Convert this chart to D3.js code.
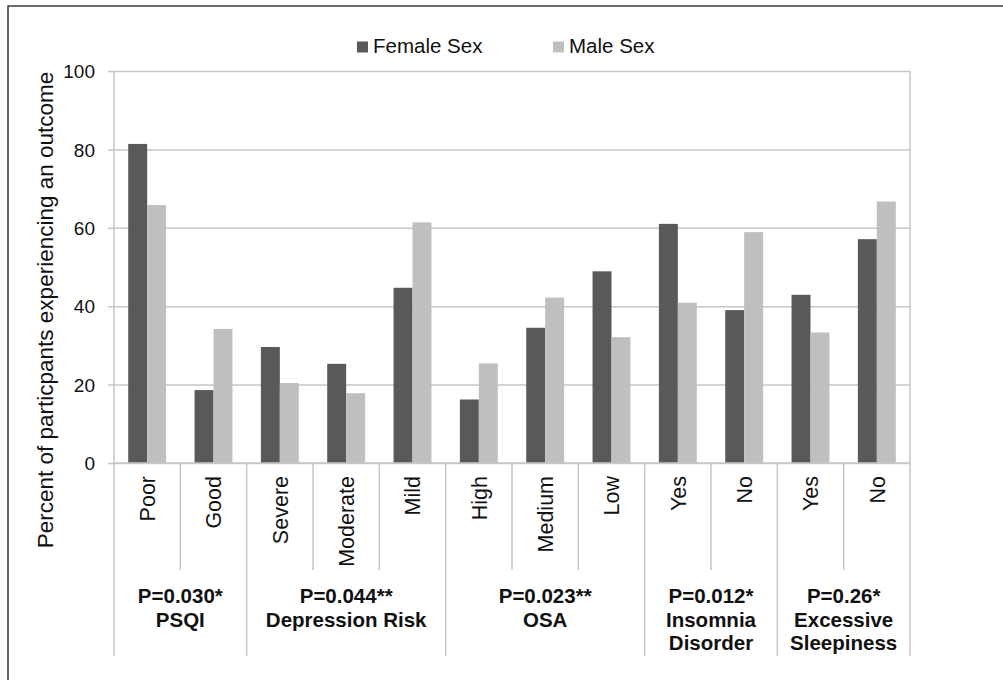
<!DOCTYPE html>
<html>
<head>
<meta charset="utf-8">
<script src="https://cdn.jsdelivr.net/npm/d3@7"></script>
<style>
  html, body { margin: 0; padding: 0; background: #fff; }
  svg { display: block; font-family: "Liberation Sans", Arial, sans-serif; }
</style>
</head>
<body>
<svg id="chart" width="1003" height="680"></svg>
<script>
// Outcome categories along the x axis, in drawing order
const categories = ["Poor", "Good", "Severe", "Moderate", "Mild", "High", "Medium", "Low", "Yes", "No", "Yes", "No"];
// Percent of participants with each outcome
const femaleSex = [81.4, 18.6, 29.6, 25.3, 44.7, 16.2, 34.5, 48.9, 61.0, 39.0, 42.9, 57.1];
const maleSex   = [65.8, 34.2, 20.4, 17.8, 61.4, 25.4, 42.2, 32.1, 40.9, 58.9, 33.3, 66.7];
// Outcome measures: how many categories each spans, and their labels
const groupSizes  = [2, 3, 3, 2, 2];
const groupLabels = [
  ["P=0.030*", "PSQI"],
  ["P=0.044**", "Depression Risk"],
  ["P=0.023**", "OSA"],
  ["P=0.012*", "Insomnia", "Disorder"],
  ["P=0.26*", "Excessive", "Sleepiness"]
];
const seriesNames = ["Female Sex", "Male Sex"];
const yTicks = [0, 20, 40, 60, 80, 100];
const colors = ["#595959", "#bfbfbf"];

const svg = d3.select("#chart");
const plotLeft = 114, plotRight = 910, plotTop = 71, plotBottom = 463;
const gridColor = "#c6c6c6";
const textColor = "#111";

// outer frame
svg.append("rect")
  .attr("x", 8).attr("y", 6).attr("width", 1100).attr("height", 800)
  .attr("fill", "none").attr("stroke", "#3a3a3a").attr("stroke-width", 1.5);

const idx = d3.range(categories.length);
const x0 = d3.scaleBand().domain(idx).range([plotLeft, plotRight]).padding(0);
const x1 = d3.scaleBand().domain([0, 1]).range([0, x0.bandwidth()])
  .paddingInner(0).paddingOuter(0.75);
const y = d3.scaleLinear().domain([0, 100]).range([plotBottom, plotTop]);

// horizontal gridlines with small ticks to the left of the axis
const yAxis = d3.axisLeft(y).tickValues(yTicks).tickSize(-(plotRight - plotLeft)).tickPadding(0)
  .tickFormat(d3.format("d"));
const yg = svg.append("g").attr("transform", `translate(${plotLeft},0)`).call(yAxis);
yg.select(".domain").remove();
yg.selectAll(".tick line").attr("x1", -6).attr("stroke", gridColor).attr("stroke-width", 1.5);
yg.selectAll(".tick text")
  .attr("x", -19).attr("dy", "0.35em")
  .attr("font-size", 19).attr("fill", textColor)
  .attr("font-family", "Liberation Sans, Arial, sans-serif");

// left axis line and right frame edge
svg.append("line").attr("x1", plotLeft).attr("x2", plotLeft).attr("y1", plotTop).attr("y2", plotBottom)
  .attr("stroke", gridColor).attr("stroke-width", 1.5);
svg.append("line").attr("x1", plotRight).attr("x2", plotRight).attr("y1", plotTop).attr("y2", plotBottom)
  .attr("stroke", gridColor).attr("stroke-width", 1.5);

// bars
const series = [femaleSex, maleSex];
series.forEach((vals, s) => {
  svg.append("g").selectAll("rect")
    .data(idx)
    .join("rect")
    .attr("x", i => x0(i) + x1(s))
    .attr("width", x1.bandwidth())
    .attr("y", i => y(vals[i]))
    .attr("height", i => y(0) - y(vals[i]))
    .attr("fill", colors[s]);
});

// category axis line
svg.append("line").attr("x1", plotLeft).attr("x2", plotRight).attr("y1", plotBottom).attr("y2", plotBottom)
  .attr("stroke", gridColor).attr("stroke-width", 1.5);

// separators below the axis: short within a measure, long between measures
const groupStarts = [0];
groupSizes.forEach((n, g) => groupStarts.push(groupStarts[g] + n));
const boundaries = d3.range(categories.length + 1);
svg.append("g").selectAll("line")
  .data(boundaries)
  .join("line")
  .attr("x1", b => plotLeft + b * x0.step())
  .attr("x2", b => plotLeft + b * x0.step())
  .attr("y1", plotBottom)
  .attr("y2", b => groupStarts.includes(b) ? 656 : 570)
  .attr("stroke", gridColor).attr("stroke-width", 1.5);

// rotated category labels
svg.append("g").selectAll("text")
  .data(idx)
  .join("text")
  .attr("transform", i => `translate(${x0(i) + x0.bandwidth() / 2},${plotBottom + 13}) rotate(-90)`)
  .attr("text-anchor", "end")
  .attr("dy", "0.36em")
  .attr("font-size", 21.5)
  .attr("fill", textColor)
  .text(i => categories[i]);

// measure labels with p-values
groupLabels.forEach((lines, g) => {
  const cx = plotLeft + (groupStarts[g] + groupSizes[g] / 2) * x0.step();
  const t = svg.append("text")
    .attr("text-anchor", "middle")
    .attr("font-size", 20.5).attr("font-weight", "bold").attr("fill", textColor);
  lines.forEach((line, k) => {
    t.append("tspan").attr("x", cx).attr("y", 603 + k * 23.6).text(line);
  });
});

// y axis title
svg.append("text")
  .attr("transform", `translate(45,310) rotate(-90)`)
  .attr("text-anchor", "middle")
  .attr("dy", "0.35em")
  .attr("font-size", 22.5)
  .attr("fill", textColor)
  .text("Percent of particpants experiencing an outcome");

// legend
const legendX = [357, 553];
seriesNames.forEach((name, s) => {
  svg.append("rect")
    .attr("x", legendX[s]).attr("y", 41.5).attr("width", 11).attr("height", 11)
    .attr("fill", colors[s]);
  svg.append("text")
    .attr("x", legendX[s] + 16).attr("y", 52.5)
    .attr("font-size", 20.5).attr("fill", textColor)
    .text(name);
});
</script>
</body>
</html>
